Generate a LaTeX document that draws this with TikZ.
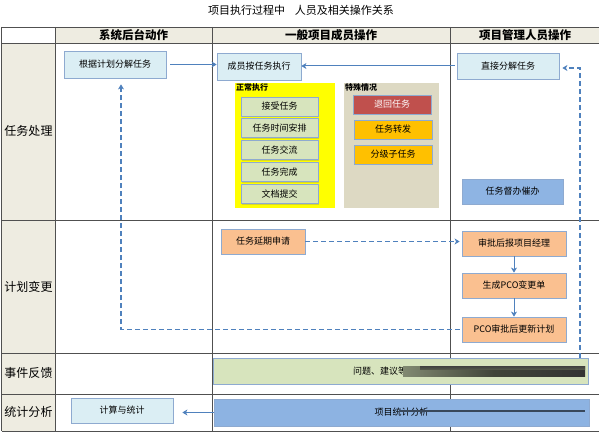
\documentclass[tikz,border=0pt]{standalone}
\usepackage{fontspec}
\setmainfont{Noto Sans CJK SC}
\usetikzlibrary{arrows.meta,shadows,calc}
\definecolor{hdr}{HTML}{EEECE1}
\definecolor{gridc}{HTML}{505050}
\definecolor{lblue}{HTML}{DBEEF4}
\definecolor{bord}{HTML}{8EAAD0}
\definecolor{arr}{HTML}{4F81BD}
\definecolor{ggreen}{HTML}{D7E4BD}
\definecolor{spec}{HTML}{DDD9C3}
\definecolor{redb}{HTML}{C0504D}
\definecolor{orgb}{HTML}{FFC000}
\definecolor{mblue}{HTML}{8EB4E3}
\definecolor{lorg}{HTML}{FAC090}
\definecolor{sblue}{HTML}{8DB3E2}
\definecolor{yel}{HTML}{FFFF00}
\tikzset{
  box/.style={draw=bord, line width=0.8pt, inner sep=0pt,
    drop shadow={shadow xshift=1pt, shadow yshift=-1pt, opacity=0.3},
    font=\fontsize{9}{10}\selectfont},
  gridline/.style={draw=gridc, line width=0.9pt},
  hdrtext/.style={font=\fontsize{11.5}{12}\selectfont\bfseries},
  rowtext/.style={font=\fontsize{12}{13}\selectfont},
  arrowS/.style={draw=arr, line width=1pt, -{Stealth[length=5pt,width=6pt,inset=1.5pt]}},
  dasharr/.style={draw=arr, line width=1.2pt, dash pattern=on 5pt off 3pt, -{Stealth[length=5pt,width=6pt,inset=1.5pt]}},
  panel/.style={inner sep=0pt},
  smalllbl/.style={font=\fontsize{8}{9}\selectfont\bfseries, inner sep=1pt, anchor=north west}
}
\begin{document}
\begin{tikzpicture}[x=1pt,y=-1pt]
\useasboundingbox (0,0) rectangle (599,433);
\fill[white] (0,0) rectangle (599,433);
% title
\node[font=\fontsize{11}{12}\selectfont] (title) at (301,10) {项目执行过程中\hspace{0.9em}人员及相关操作关系};
% table backgrounds
\fill[hdr] (55,27) rectangle (599,43);
\fill[hdr] (1.5,43) rectangle (55,431);
% grid
\foreach \yy in {27,43,220,353,394,431} {\draw[gridline] (1.5,\yy) -- (599,\yy);}
\foreach \xx in {1.5,55,212,450} {\draw[gridline] (\xx,27) -- (\xx,431);}
% headers
\node[hdrtext] (h1) at (133.5,35) {系统后台动作};
\node[hdrtext] (h2) at (331,35) {一般项目成员操作};
\node[hdrtext] (h3) at (525,35) {项目管理人员操作};
\node[rowtext] (r1) at (28.5,131) {任务处理};
\node[rowtext] (r2) at (28.5,287) {计划变更};
\node[rowtext] (r3) at (28.5,373) {事件反馈};
\node[rowtext] (r4) at (28.5,412) {统计分析};
% row 1
\node[box, fill=lblue, minimum width=102pt, minimum height=27pt] (gen) at (115,64.5) {根据计划分解任务};
\node[box, fill=lblue, minimum width=84pt, minimum height=27pt] (mem) at (259,66.5) {成员按任务执行};
\node[box, fill=lblue, minimum width=102pt, minimum height=26pt] (dir) at (508,66) {直接分解任务};
\node[panel, fill=yel, minimum width=100pt, minimum height=125pt] (normal) at (285,145.5) {};
\node[smalllbl] (normallbl) at (normal.north west) {正常执行};
\node[panel, fill=spec, minimum width=95pt, minimum height=125pt] (special) at (391.5,145.5) {};
\node[smalllbl] (speciallbl) at (special.north west) {特殊情况};
\node[box, fill=ggreen, minimum width=77pt, minimum height=19pt] (n1) at (279.5,106.5) {接受任务};
\node[box, fill=ggreen, minimum width=77pt, minimum height=19pt] (n2) at (279.5,128) {任务时间安排};
\node[box, fill=ggreen, minimum width=77pt, minimum height=19pt] (n3) at (279.5,150) {任务交流};
\node[box, fill=ggreen, minimum width=77pt, minimum height=19pt] (n4) at (279.5,172) {任务完成};
\node[box, fill=ggreen, minimum width=77pt, minimum height=19pt] (n5) at (279.5,194) {文档提交};
\node[box, fill=redb, text=white, minimum width=78pt, minimum height=19pt] (s1) at (392,104.5) {退回任务};
\node[box, fill=orgb, minimum width=78pt, minimum height=19pt] (s2) at (393,129.5) {任务转发};
\node[box, fill=orgb, minimum width=78pt, minimum height=19pt] (s3) at (393,154.5) {分级子任务};
\node[box, fill=mblue, minimum width=101pt, minimum height=25pt] (urge) at (512.5,191.5) {任务督办催办};
% row 2
\node[box, fill=lorg, minimum width=84pt, minimum height=25pt] (ext) at (263,241.5) {任务延期申请};
\node[box, fill=lorg, minimum width=104pt, minimum height=25pt] (appr) at (514,243.5) {审批后报项目经理};
\node[box, fill=lorg, minimum width=104pt, minimum height=25pt] (pco) at (514,285.5) {生成PCO变更单};
\node[box, fill=lorg, minimum width=104pt, minimum height=25pt] (upd) at (514,329.5) {PCO审批后更新计划};
% row 3, 4
\node[box, fill=ggreen, minimum width=375pt, minimum height=26pt] (fb) at (400.5,371) {};
\node[font=\fontsize{9}{10}\selectfont, inner sep=0pt] (fbtext) at (380,371) {问题、建议等};
\shade[left color=ggreen!60!black, right color=black!80, middle color=ggreen!30!black] (403,366) rectangle (585,376);
\shade[top color=black!75, bottom color=ggreen!40!black] (420,366) rectangle (585,369.5);
\node[box, fill=sblue, minimum width=375pt, minimum height=27pt] (stat) at (401.5,412.5) {项目统计分析};
\fill[black!60!sblue] (400,410) rectangle (585,412);
\node[box, fill=lblue, minimum width=102pt, minimum height=25pt] (calc) at (122,410.5) {计算与统计};
% connectors
\draw[arrowS] ([xshift=4pt]gen.east) -- (gen.east -| mem.west);
\draw[arrowS] ([xshift=-2pt]dir.west) -- (dir.west -| mem.east);
\coordinate (c1) at (580,68);
\draw[dasharr, shorten >=3pt] (fb.north -| c1) -- (c1) -- (c1 -| dir.east);
\draw[dasharr, shorten >=2pt] (ext.east) -- (ext.east -| appr.west);
\draw[arrowS] (appr.south) -- (pco.north);
\draw[arrowS] (pco.south) -- (upd.north);
\coordinate (c2) at (121,329.5);
\draw[dasharr, shorten >=6pt] ([xshift=-2pt]upd.west) -- (c2) -- (c2 |- gen.south);
\draw[arrowS, shorten >=9pt] (stat.west) -- (stat.west -| calc.east);
\end{tikzpicture}
\end{document}
